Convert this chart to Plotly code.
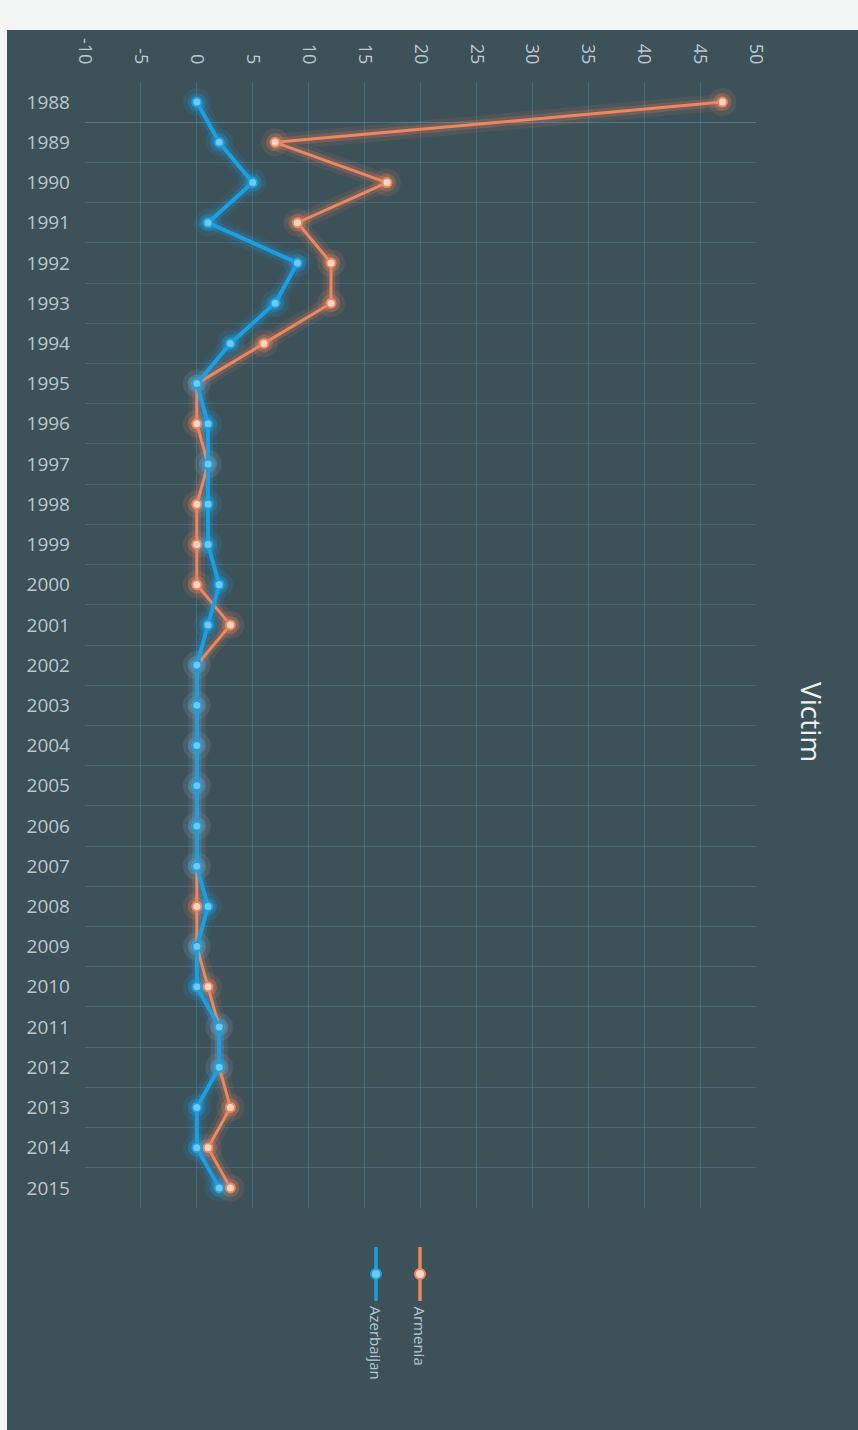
import plotly.graph_objects as go

years = [str(y) for y in range(1988, 2016)]
armenia = [47, 7, 17, 9, 12, 12, 6, 0, 0, 1, 0, 0, 0, 3, 0, 0, 0, 0, 0, 0,
           0, 0, 1, 2, 2, 3, 1, 3]
azerbaijan = [0, 2, 5, 1, 9, 7, 3, 0, 1, 1, 1, 1, 2, 1, 0, 0, 0, 0, 0, 0,
              1, 0, 0, 2, 2, 0, 0, 2]
x_ticks = list(range(-10, 55, 5))
title_text = "Victim"
series_names = ["Armenia", "Azerbaijan"]

W, H = 858, 1430
ML, MR, MT, MB = 85, 102, 82, 222
PW, PH = W - ML - MR, H - MT - MB


def xp(px):
    return (px - ML) / PW


def yp(py):
    return (H - MB - py) / PH


BG = "#3d5159"
ORANGE = "#ee875f"
ORANGE_FILL = "#f6d6c6"
BLUE = "#1c9fe0"
BLUE_FILL = "#6fc9f0"
TXT = "#bcc7cb"
FONT = "Open Sans"

fig = go.Figure()

series = [
    (armenia, ORANGE, ORANGE_FILL, "rgba(238,135,95,", 3),
    (azerbaijan, BLUE, BLUE_FILL, "rgba(28,159,224,", 4),
]

# soft glow layers
for vals, col, fill, rgba, lw in series:
    fig.add_trace(go.Scatter(
        x=vals, y=years, mode="lines+markers",
        line=dict(color=rgba + "0.10)", width=lw + 14),
        marker=dict(size=28, color=rgba + "0.12)"),
        hoverinfo="skip", showlegend=False))
    fig.add_trace(go.Scatter(
        x=vals, y=years, mode="lines+markers",
        line=dict(color=rgba + "0.20)", width=lw + 6),
        marker=dict(size=18, color=rgba + "0.28)"),
        hoverinfo="skip", showlegend=False))

for (vals, col, fill, rgba, lw), name in zip(series, series_names):
    fig.add_trace(go.Scatter(
        x=vals, y=years, mode="lines+markers", name=name,
        line=dict(color=col, width=lw),
        marker=dict(size=9, color=fill, line=dict(color=col, width=2)),
        showlegend=False))

shapes = []
# photo border strips
shapes.append(dict(type="rect", xref="paper", yref="paper",
                   x0=xp(0), x1=xp(W), y0=yp(0), y1=yp(30),
                   fillcolor="#f4f5f5", line=dict(width=0), layer="above"))
shapes.append(dict(type="rect", xref="paper", yref="paper",
                   x0=xp(0), x1=xp(7), y0=yp(0), y1=yp(H),
                   fillcolor="#f4f5f5", line=dict(width=0), layer="above"))

annotations = []
legend_items = [(series_names[0], ORANGE, ORANGE_FILL, 420),
                (series_names[1], BLUE, BLUE_FILL, 376)]
for name, col, fill, px in legend_items:
    shapes.append(dict(type="line", xref="paper", yref="paper",
                       x0=xp(px), x1=xp(px), y0=yp(1247), y1=yp(1301),
                       line=dict(color=col, width=3.5)))
    shapes.append(dict(type="circle", xref="paper", yref="paper",
                       xsizemode="pixel", ysizemode="pixel",
                       xanchor=xp(px), yanchor=yp(1274),
                       x0=-5, x1=5, y0=-5, y1=5,
                       fillcolor=fill, line=dict(color=col, width=2)))
    annotations.append(dict(text=name, xref="paper", yref="paper",
                            x=xp(px), y=yp(1304), xanchor="center",
                            yanchor="top", textangle=90, showarrow=False,
                            font=dict(family=FONT, size=15, color=TXT)))

annotations.append(dict(text=title_text, xref="paper", yref="paper",
                        x=xp(812), y=yp(722), xanchor="center",
                        yanchor="middle", textangle=90, showarrow=False,
                        font=dict(family=FONT, size=28, color="#eef2f3")))

GRID = "rgba(100,160,185,0.28)"
fig.update_layout(
    width=W, height=H,
    margin=dict(l=ML, r=MR, t=MT, b=MB, pad=0),
    paper_bgcolor=BG, plot_bgcolor=BG,
    shapes=shapes, annotations=annotations,
    showlegend=False,
    xaxis=dict(side="top", range=[-10, 50], tickvals=x_ticks,
               ticktext=[str(t) for t in x_ticks], tickangle=90,
               showgrid=True, gridcolor=GRID, gridwidth=1,
               zeroline=False, showline=False, ticks="",
               ticklabelstandoff=14,
               tickfont=dict(family=FONT, size=18, color=TXT)),
    yaxis=dict(type="category", categoryorder="array", categoryarray=years,
               range=[len(years) - 0.5, -0.5], tickson="boundaries",
               showgrid=True, gridcolor=GRID, gridwidth=1,
               zeroline=False, showline=False, ticks="",
               ticklabelstandoff=14,
               tickfont=dict(family=FONT, size=19, color=TXT)),
)

fig.write_html(
    "out.html",
    config={"displayModeBar": False},
    post_script="document.body.style.margin='0';document.body.style.overflow='hidden';",
)
